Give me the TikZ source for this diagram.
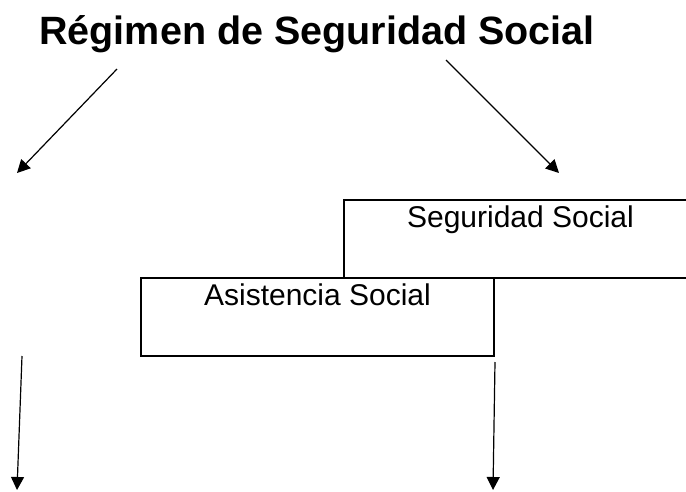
\documentclass[tikz,border=0pt]{standalone}
\usepackage{fontspec}
\setmainfont{Liberation Sans}
\usetikzlibrary{arrows.meta, positioning}
\tikzstyle{heading} = [inner sep=0pt, font=\fontsize{39.5}{46}\selectfont\bfseries]
\tikzstyle{box} = [rectangle, draw=black, line width=2pt, minimum width=353pt, inner sep=0pt, text height=27pt, text depth=51pt, font=\fontsize{30}{35}\selectfont]
\tikzstyle{arrow} = [line width=1.2pt, -{Triangle[length=13pt, width=13pt]}]

\begin{document}
\begin{tikzpicture}[x=1pt, y=-1pt]
  \useasboundingbox (0,0) rectangle (686,491);
  % Titulo
  \node (regimen) [heading, anchor=base] at (317,44) {Régimen de Seguridad Social};
  % Cajas
  \node (seguridad) [box, anchor=north west] at (343,199) {Seguridad Social};
  \node (asistencia) [box, anchor=north west] at (140,277) {Asistencia Social};
  % Extremos libres
  \coordinate (izqA) at (117,69);
  \coordinate (izqB) at (17,173);
  \coordinate (derA) at (446,60);
  \coordinate (derB) at (559,173);
  \coordinate (izqC) at (22,356);
  \coordinate (izqD) at (17,490);
  \coordinate (abajo) at (493,490);
  % Flechas
  \draw [arrow] (izqA) -- (izqB);
  \draw [arrow] (derA) -- (derB);
  \draw [arrow] (izqC) -- (izqD);
  \draw [arrow] ([yshift=-5pt]asistencia.south east) -- (abajo);
\end{tikzpicture}
\end{document}
